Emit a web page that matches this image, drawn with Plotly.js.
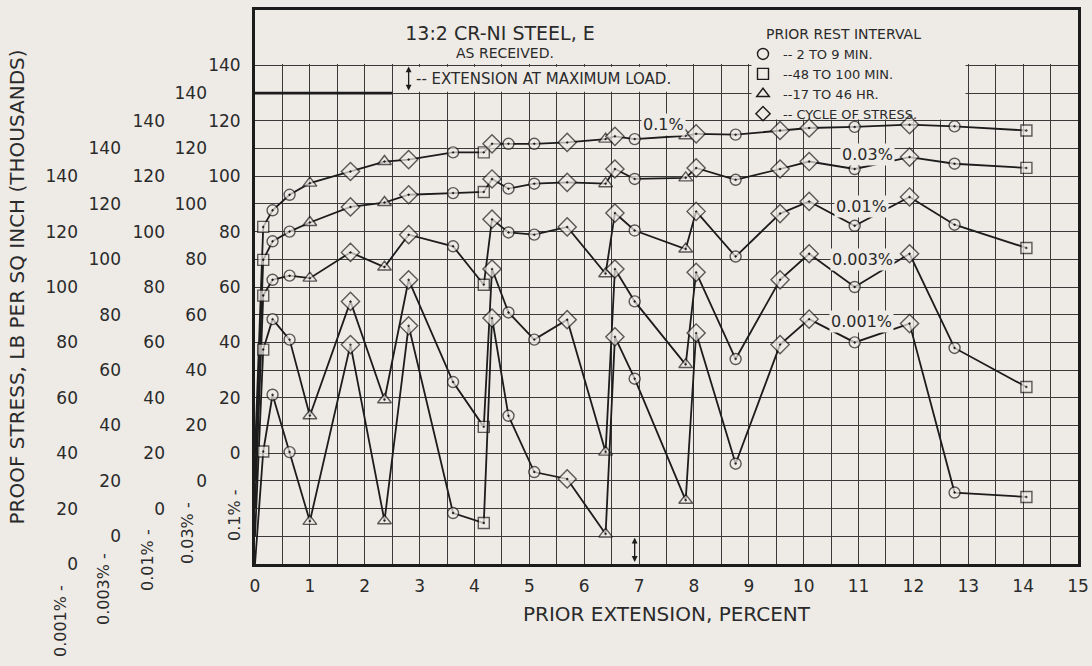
<!DOCTYPE html>
<html>
<head>
<meta charset="utf-8">
<script src="https://cdn.plot.ly/plotly-3.0.1.min.js"></script>
<style>
  html, body { margin: 0; padding: 0; background: #eeeae6; }
  #chart { width: 1092px; height: 666px; }
</style>
</head>
<body>
<div id="chart"></div>
<script>
// ---------------- DATA ----------------
// Prior extension (percent) of each test; first entry is the as-received origin
const extension = [0, 0.15, 0.32, 0.63, 1.0, 1.74, 2.36, 2.8, 3.61, 4.17,
                   4.32, 4.62, 5.09, 5.69, 6.39, 6.56, 6.92, 7.85, 8.04, 8.76,
                   9.57, 10.1, 10.93, 11.93, 12.75, 14.06];
// Prior rest interval code for each test: A = 2-9 min, B = 48-100 min, C = 17-46 hr, D = cycle of stress
const restInterval = ['', 'B', 'A', 'A', 'C', 'D', 'C', 'D', 'A', 'B',
                      'D', 'A', 'A', 'D', 'C', 'D', 'A', 'C', 'D', 'A',
                      'D', 'D', 'A', 'D', 'A', 'B'];
// Proof stress, thousands of lb per sq inch, for each offset strain
const stress0_1 = [0, 81.7, 87.7, 93.3, 97.5, 101.7, 105.3, 106, 108.6, 108.6,
                   111.7, 111.7, 111.7, 112.2, 113.4, 114.4, 113.4, 114.6, 115.3, 115,
                   116.5, 117.4, 117.8, 118.6, 118, 116.5];
const stress0_03 = [0, 79.8, 86.5, 90, 93.3, 98.9, 100.5, 103.3, 103.9, 104.3,
                    109, 105.5, 107.3, 107.8, 107.3, 112.6, 109, 109.4, 113, 108.7,
                    112.6, 115.3, 112.6, 116.9, 114.5, 113];
const stress0_01 = [0, 76.9, 82.6, 84.1, 83.2, 92.5, 87.2, 98.9, 94.7, 80.8,
                    104.5, 99.7, 98.9, 101.7, 84.8, 106.7, 100.4, 93.7, 107.3, 91,
                    106.5, 110.9, 102.1, 112.5, 102.5, 94.1];
const stress0_003 = [0, 67.4, 78.4, 71, 43.5, 84.8, 49.3, 92.6, 55.7, 39.5,
                     96.5, 80.8, 71, 78.2, 30.4, 96.5, 84.8, 62, 95.3, 64,
                     92.6, 102, 90, 102, 68, 53.9];
const stress0_001 = [0, 40.6, 61.1, 40.4, 15.4, 79.2, 15.6, 86, 18.4, 14.8,
                     88.8, 53.5, 33.2, 30.7, 10.8, 82, 66.9, 23, 83.4, 36.2,
                     79.2, 88.4, 80, 86.8, 25.8, 24.2];
const offsetLabels = ['0.1%', '0.03%', '0.01%', '0.003%', '0.001%'];
const restCodes = ['A', 'B', 'C', 'D'];
const restLabels = ['-- 2 TO 9 MIN.', '--48 TO 100 MIN.', '--17 TO 46 HR.', '-- CYCLE OF STRESS.'];
const legendHeading = 'PRIOR REST INTERVAL';
// grid positions and their tick labels (blank where the grid line carries no label)
const xGridVals = [0, 0.5, 1, 1.5, 2, 2.5, 3, 3.5, 4, 4.5, 5, 5.5, 6, 6.5, 7, 7.5,
                   8, 8.5, 9, 9.5, 10, 10.5, 11, 11.5, 12, 12.5, 13, 13.5, 14, 14.5, 15];
const xGridText = ['0', '', '1', '', '2', '', '3', '', '4', '', '5', '', '6', '', '7', '',
                   '8', '', '9', '', '10', '', '11', '', '12', '', '13', '', '14', '', '15'];
const yGridVals = [-40, -30, -20, -10, 0, 10, 20, 30, 40, 50, 60, 70, 80, 90, 100,
                   110, 120, 130, 140, 150, 160];
const yGridText = ['', '', '', '', '0', '', '20', '', '40', '', '60', '', '80', '', '100',
                   '', '120', '', '140', '', ''];
const yTickVals = [0, 20, 40, 60, 80, 100, 120, 140];
const extensionAtMaxLoad = 6.92;

// ---------------- STYLE ----------------
const BG = '#eeeae6';
const INK = '#1c1c1c';
const TXT = '#2a2a2a';
const GRID = '#3a3a3a';
const FONT = 'DejaVu Sans';
const symbolOf = {A: 'circle-dot', B: 'square-dot', C: 'triangle-up-dot', D: 'diamond-dot'};
const sizeOf = {A: 11, B: 11, C: 12, D: 14};

const series = [stress0_1, stress0_03, stress0_01, stress0_003, stress0_001];
const yRefs = ['y', 'y2', 'y3', 'y4', 'y5'];

const traces = series.map((vals, i) => ({
  type: 'scatter', mode: 'lines+markers',
  name: offsetLabels[i], showlegend: false,
  x: extension, y: vals, yaxis: yRefs[i],
  line: {color: INK, width: 1.8},
  marker: {
    symbol: restInterval.map(c => symbolOf[c] || 'circle'),
    size: restInterval.map(c => sizeOf[c] || 0),
    color: BG,
    line: {color: INK, width: 1.4}
  },
  cliponaxis: false,
  hoverinfo: 'x+y'
}));

// legend entries for rest interval symbols
restCodes.forEach((c, i) => {
  traces.push({
    type: 'scatter', mode: 'markers', name: restLabels[i],
    x: [null], y: [null], showlegend: true,
    marker: {symbol: symbolOf[c].replace('-dot', ''), size: 11, color: BG, line: {color: INK, width: 1.4}}
  });
});

const W = 1092, H = 666, mL = 10, mR = 14, mT = 10, mB = 102;
const pw = W - mL - mR, ph = H - mT - mB;
const px2paper = p => (p - mL) / pw;
const py2paper = p => 1 - (p - mT) / ph;

const baseY = {
  tickmode: 'array', tickvals: yTickVals, showgrid: false, zeroline: false, ticks: '',
  tickfont: {family: FONT, size: 17, color: TXT}, showline: false
};

const rotLabel = (text, xpx, ypx) => ({
  text: text, xref: 'paper', yref: 'paper', x: px2paper(xpx), y: py2paper(ypx),
  textangle: -90, showarrow: false, xanchor: 'center', yanchor: 'top',
  font: {family: FONT, size: 16, color: TXT}
});

const layout = {
  width: W, height: H,
  margin: {l: mL, r: mR, t: mT, b: mB},
  paper_bgcolor: BG, plot_bgcolor: BG,
  font: {family: FONT, color: TXT},
  showlegend: true,
  title: {
    text: '13:2 CR-NI STEEL, E', xref: 'container', yref: 'container',
    x: 500 / W, y: 1 - 33 / H, xanchor: 'center', yanchor: 'middle',
    font: {family: FONT, size: 19, color: TXT}
  },
  legend: {
    x: px2paper(743), y: py2paper(39), xanchor: 'left', yanchor: 'top',
    bgcolor: 'rgba(0,0,0,0)', borderwidth: 0,
    font: {family: FONT, size: 13, color: TXT},
    itemwidth: 30, tracegroupgap: 0
  },
  xaxis: {
    domain: [px2paper(255), 1], range: [0, 15.0001],
    tickmode: 'array', tickvals: xGridVals, ticktext: xGridText,
    showgrid: true, gridcolor: GRID, gridwidth: 1,
    zeroline: false, ticks: '', ticklabelstandoff: 5, ticklabeloverflow: 'allow',
    showline: true, mirror: true, linecolor: INK, linewidth: 3,
    tickfont: {family: FONT, size: 17, color: TXT},
    title: {text: 'PRIOR EXTENSION, PERCENT', standoff: 12, font: {family: FONT, size: 20, color: TXT}},
    automargin: false
  },
  yaxis: Object.assign({}, baseY, {
    range: [-40, 160], anchor: 'x',
    tickvals: yGridVals, ticktext: yGridText,
    showgrid: true, gridcolor: GRID, gridwidth: 1,
    showline: true, mirror: true, linecolor: INK, linewidth: 3,
    ticklabelstandoff: 8, automargin: false
  }),
  yaxis2: Object.assign({}, baseY, {range: [-30, 170], overlaying: 'y', anchor: 'free', position: px2paper(207), automargin: false}),
  yaxis3: Object.assign({}, baseY, {range: [-20, 180], overlaying: 'y', anchor: 'free', position: px2paper(165), automargin: false}),
  yaxis4: Object.assign({}, baseY, {range: [-10, 190], overlaying: 'y', anchor: 'free', position: px2paper(121), automargin: false}),
  yaxis5: Object.assign({}, baseY, {
    range: [0, 200], overlaying: 'y', anchor: 'free', position: px2paper(78), automargin: false,
    title: {text: 'PROOF STRESS, LB PER SQ INCH (THOUSANDS)', standoff: 14, font: {family: FONT, size: 20, color: TXT}}
  }),
  shapes: [
    // blank strip above the grid (title area)
    {type: 'rect', xref: 'x', yref: 'y', x0: 0, x1: 15, y0: 140.5, y1: 160, fillcolor: BG, line: {width: 0}, layer: 'between'},
    // blank area behind the legend
    {type: 'rect', xref: 'x', yref: 'y', x0: 9.05, x1: 12.95, y0: 120.5, y1: 141, fillcolor: BG, line: {width: 0}, layer: 'between'},
    // blank area behind the max-load note
    {type: 'rect', xref: 'x', yref: 'y', x0: 2.55, x1: 7.95, y0: 130.5, y1: 139.5, fillcolor: BG, line: {width: 0}, layer: 'between'},
    // heavy rule at 130
    {type: 'line', xref: 'x', yref: 'y', x0: 0, x1: 2.5, y0: 130, y1: 130, line: {color: INK, width: 2.6}, layer: 'above'}
  ],
  annotations: [
    {text: 'AS RECEIVED.', xref: 'paper', yref: 'paper', x: px2paper(505), y: py2paper(53),
     showarrow: false, xanchor: 'center', yanchor: 'middle', font: {family: FONT, size: 14, color: TXT}},
    {text: legendHeading, xref: 'paper', yref: 'paper', x: px2paper(764), y: py2paper(34),
     showarrow: false, xanchor: 'left', yanchor: 'middle', font: {family: FONT, size: 14, color: TXT}},
    {text: '-- EXTENSION AT MAXIMUM LOAD.', xref: 'x', yref: 'y', x: 2.9, y: 135,
     showarrow: false, xanchor: 'left', yanchor: 'middle', font: {family: FONT, size: 15, color: TXT}},
    {text: '', xref: 'x', yref: 'y', x: 2.8, y: 139.6, axref: 'x', ayref: 'y', ax: 2.8, ay: 130.4,
     showarrow: true, arrowside: 'end+start', arrowhead: 2, arrowsize: 0.9, arrowwidth: 1.3, arrowcolor: INK},
    {text: '', xref: 'x', yref: 'y', x: extensionAtMaxLoad, y: -30.5, axref: 'x', ayref: 'y', ax: extensionAtMaxLoad, ay: -39.8,
     showarrow: true, arrowside: 'end+start', arrowhead: 2, arrowsize: 0.9, arrowwidth: 1.3, arrowcolor: INK},
    // curve labels
    {text: offsetLabels[0], xref: 'x', yref: 'y', x: 7.45, y: 118.6, showarrow: false, bgcolor: BG, borderpad: 1, font: {family: FONT, size: 16, color: TXT}},
    {text: offsetLabels[1], xref: 'x', yref: 'y2', x: 11.16, y: 117.8, showarrow: false, bgcolor: BG, borderpad: 1, font: {family: FONT, size: 16, color: TXT}},
    {text: offsetLabels[2], xref: 'x', yref: 'y3', x: 11.05, y: 109, showarrow: false, bgcolor: BG, borderpad: 1, font: {family: FONT, size: 16, color: TXT}},
    {text: offsetLabels[3], xref: 'x', yref: 'y4', x: 11.07, y: 99.9, showarrow: false, bgcolor: BG, borderpad: 1, font: {family: FONT, size: 16, color: TXT}},
    {text: offsetLabels[4], xref: 'x', yref: 'y5', x: 11.05, y: 87.5, showarrow: false, bgcolor: BG, borderpad: 1, font: {family: FONT, size: 16, color: TXT}},
    // axis identifiers under each zero label
    rotLabel(offsetLabels[0] + ' -', 234, 487),
    rotLabel(offsetLabels[1] + ' -', 187, 500),
    rotLabel(offsetLabels[2] + ' -', 147, 527),
    rotLabel(offsetLabels[3] + ' -', 103, 551),
    rotLabel(offsetLabels[4] + ' -', 60, 583)
  ]
};

Plotly.newPlot('chart', traces, layout, {displayModeBar: false, staticPlot: true});
</script>
</body>
</html>
